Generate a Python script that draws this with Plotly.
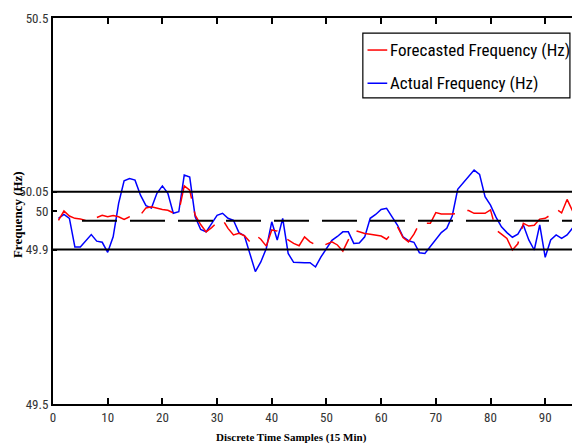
import plotly.graph_objects as go

# ---- data ----
samples = list(range(1, 97))

actual_hz = [
    49.981, 49.991, 49.981, 49.907, 49.907, 49.922, 49.939, 49.922, 49.919, 49.893,
    49.933, 50.020, 50.078, 50.084, 50.080, 50.041, 50.014, 50.008, 50.046, 50.065,
    50.046, 49.994, 49.998, 50.093, 50.088, 49.985, 49.952, 49.946, 49.968, 49.989,
    49.994, 49.981, 49.976, 49.944, 49.936, 49.886, 49.843, 49.868, 49.903, 49.972,
    49.925, 49.981, 49.890, 49.867, 49.866, 49.866, 49.866, 49.855, 49.881, 49.903,
    49.924, 49.934, 49.946, 49.946, 49.916, 49.917, 49.933, 49.981, 49.991, 50.004,
    50.007, 49.985, 49.963, 49.933, 49.923, 49.919, 49.892, 49.890, 49.909, 49.927,
    49.944, 49.955, 49.987, 50.056, 50.072, 50.089, 50.106, 50.095, 50.037, 50.015,
    49.984, 49.959, 49.944, 49.932, 49.940, 49.964, 49.925, 49.899, 49.964, 49.880,
    49.925, 49.938, 49.929, 49.938, 49.956, 49.964,
]

forecast_hz = [
    49.976, 50.000, 49.987, 49.981, 49.979, 49.975, 49.972, 49.983, 49.989, 49.985,
    49.988, 49.985, 49.978, 49.985, 49.985, 49.990, 50.008, 50.011, 50.007, 50.004,
    50.002, 49.995, 49.998, 50.065, 50.054, 49.989, 49.965, 49.946, 49.957, 49.970,
    49.978, 49.955, 49.938, 49.942, 49.936, 49.920, 49.938, 49.927, 49.909, 49.951,
    49.948, 49.933, 49.925, 49.916, 49.910, 49.933, 49.920, 49.912, 49.908, 49.913,
    49.920, 49.912, 49.896, 49.925, 49.950, 49.946, 49.942, 49.940, 49.937, 49.935,
    49.927, 49.942, 49.959, 49.931, 49.920, 49.940, 49.968, 49.968, 49.968, 49.996,
    49.992, 49.992, 49.992, 49.994, 50.001, 50.001, 49.994, 49.994, 49.994, 50.003,
    49.951, 49.940, 49.929, 49.899, 49.915, 49.968, 49.961, 49.963, 49.979, 49.981,
    49.990, 50.005, 49.995, 50.030, 50.000, 50.010,
]

upper_limit = 50.05
lower_limit = 49.9
mid_level = 49.975
mid_start = 5.3
x_end = 96

y_ticks = [49.5, 49.9, 50.0, 50.05, 50.5]
y_tick_text = ["49.5", "49.9", "50", "50.05", "50.5"]
x_ticks = [0, 10, 20, 30, 40, 50, 60, 70, 80, 90]

series_names = ["Forecasted Frequency (Hz)", "Actual Frequency (Hz)"]
series_colors = ["#ff0000", "#0000ff"]

NARROW = "Liberation Sans Narrow, Arial Narrow, Roboto Condensed, Liberation Sans, sans-serif"
SERIF = "Liberation Serif, Times New Roman, serif"

fig = go.Figure()

fig.add_trace(go.Scatter(
    x=samples, y=actual_hz, mode="lines", name=series_names[1],
    line=dict(color=series_colors[1], width=1.5), showlegend=False,
))
fig.add_trace(go.Scatter(
    x=samples, y=forecast_hz, mode="lines", name=series_names[0],
    line=dict(color=series_colors[0], width=1.5, dash="35px,13px"), showlegend=False,
))

for lvl in (upper_limit, lower_limit):
    fig.add_trace(go.Scatter(
        x=[0, x_end], y=[lvl, lvl], mode="lines", showlegend=False,
        line=dict(color="black", width=2), hoverinfo="skip",
    ))
fig.add_trace(go.Scatter(
    x=[mid_start, x_end], y=[mid_level, mid_level], mode="lines", showlegend=False,
    line=dict(color="black", width=2, dash="35px,13px"), hoverinfo="skip",
))

# ---- manual legend (paper coords) ----
leg_x0, leg_x1, leg_y0, leg_y1 = 0.597, 0.996, 0.793, 0.961
entry_y = [0.917, 0.831]
line_x0, line_x1, text_x = 0.606, 0.644, 0.645

shapes = [dict(type="rect", xref="paper", yref="paper", x0=leg_x0, x1=leg_x1,
               y0=leg_y0, y1=leg_y1, line=dict(color="black", width=1.2),
               fillcolor="white", layer="above")]
annotations = []
for name, col, ey in zip(series_names, series_colors, entry_y):
    shapes.append(dict(type="line", xref="paper", yref="paper", x0=line_x0, x1=line_x1,
                       y0=ey, y1=ey, line=dict(color=col, width=1.5), layer="above"))
    annotations.append(dict(text=name, xref="paper", yref="paper", x=text_x, y=ey,
                            xanchor="left", yanchor="middle", showarrow=False,
                            font=dict(family=NARROW, size=17, color="black")))

annotations += [
    dict(text="<b>Frequency (Hz)</b>", xref="paper", yref="paper",
         x=-0.067, y=0.49, textangle=-90, showarrow=False,
         xanchor="center", yanchor="middle",
         font=dict(family=SERIF, size=13, color="black")),
    dict(text="<b>Discrete Time Samples (15 Min)</b>", xref="paper", yref="paper",
         x=0.4605, y=-0.088, showarrow=False, xanchor="center", yanchor="middle",
         font=dict(family=SERIF, size=11, color="black")),
]

fig.update_layout(
    width=572, height=447,
    margin=dict(l=53, r=0, t=18, b=43),
    paper_bgcolor="white", plot_bgcolor="white",
    showlegend=False,
    xaxis=dict(
        range=[0, 94.9], tickvals=x_ticks, ticks="inside", ticklen=6,
        tickwidth=2, tickcolor="black",
        showline=True, linecolor="black", linewidth=2, mirror="ticks",
        showgrid=False, zeroline=False,
        tickfont=dict(family=NARROW, size=13, color="#333"),
    ),
    yaxis=dict(
        range=[49.5, 50.5], tickvals=y_ticks, ticktext=y_tick_text,
        ticks="inside", ticklen=4, tickwidth=2, tickcolor="black",
        showline=True, linecolor="black", linewidth=2, mirror=False,
        showgrid=False, zeroline=False,
        tickfont=dict(family=NARROW, size=13, color="#333"),
    ),
    shapes=shapes,
    annotations=annotations,
)

fig.write_html("out.html")
